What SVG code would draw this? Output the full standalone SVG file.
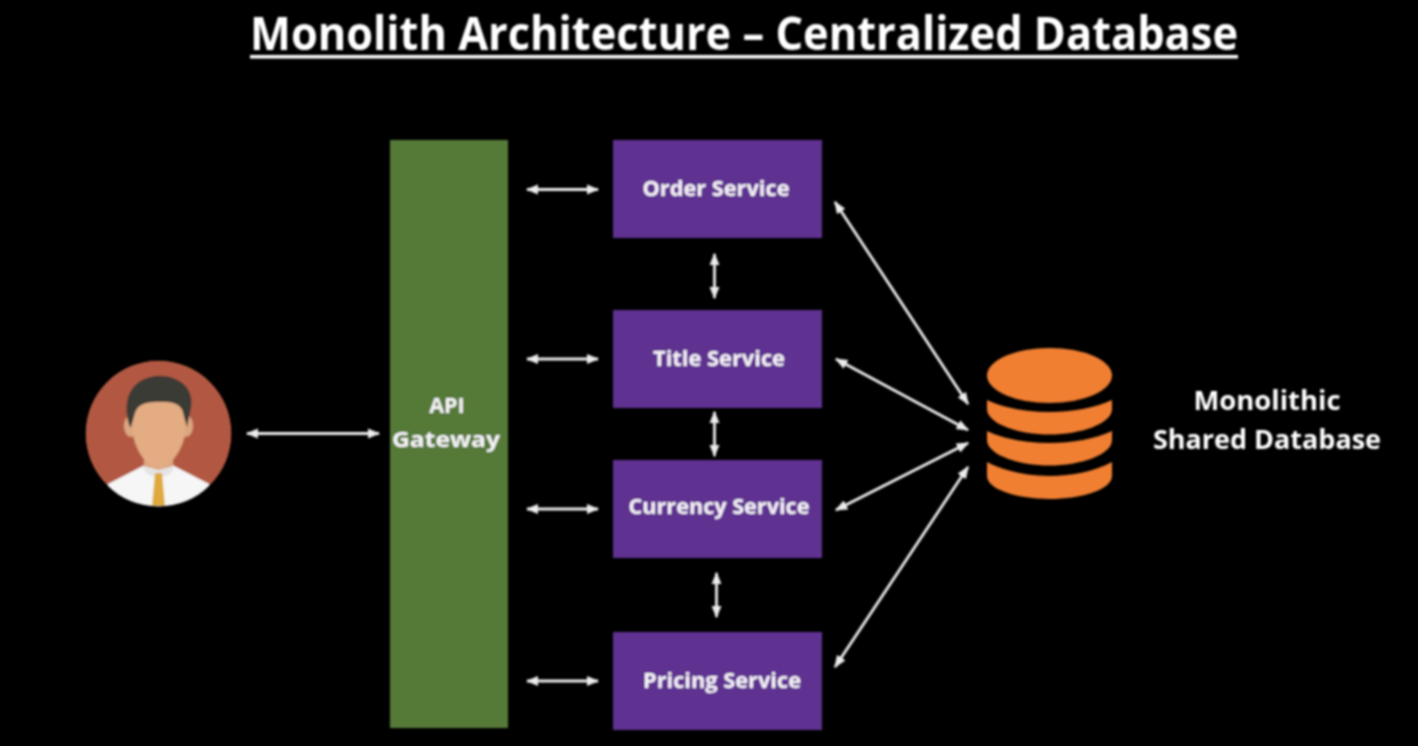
<svg xmlns="http://www.w3.org/2000/svg" width="1418" height="746" viewBox="0 0 1418 746">
<style>
text{font-family:"Open Sans","Noto Sans","Liberation Sans",sans-serif;font-weight:700;fill:#f7f4f9;text-anchor:middle}
.svc{fill:#5f3191}
.lbl{font-size:21.500px}
.db{font-size:26.500px;fill:#fff}
.conn{stroke:#ececec;stroke-width:2.8;fill:none;marker-start:url(#ah);marker-end:url(#ah)}
.cyl{fill:#f07f32}
</style>
<defs>
<marker id="ah" viewBox="0 0 10 8" refX="9" refY="4" markerWidth="4.500" markerHeight="3.600" orient="auto-start-reverse"><path d="M0 0L10 4L0 8Z" fill="#ececec"/></marker>
<clipPath id="avatarClip"><circle cx="158.500" cy="433.500" r="73"/></clipPath>
<filter id="soft" x="-5%" y="-5%" width="110%" height="110%"><feGaussianBlur stdDeviation="0.8"/></filter>
</defs>
<rect width="1418" height="746" fill="#000"/>
<g filter="url(#soft)">
<g id="title">
<text x="744" y="50" font-size="46" textLength="988" lengthAdjust="spacingAndGlyphs" style="fill:#fff">Monolith Architecture – Centralized Database</text>
<rect x="250" y="55" width="988" height="3.500" fill="#fff"/>
</g>
<g id="user">
<g clip-path="url(#avatarClip)">
<circle cx="158.500" cy="433.500" r="73" fill="#b25843"/>
<path d="M108 484L143 466H174L209 484V510H108Z" fill="#f6f6f6"/>
<path d="M143 466L146 462H171L174 466C174 472 168 476 158.500 478C149 476 143 472 143 466Z" fill="#e4e4e4"/>
<path d="M155 473H162L165 506H152Z" fill="#dfaa3a"/>
<ellipse cx="131" cy="426" rx="7" ry="11" fill="#dba680"/>
<ellipse cx="186" cy="426" rx="7" ry="11" fill="#dba680"/>
<path d="M144 450H173V466L158.500 470L144 466Z" fill="#dba680"/>
<path d="M132 395H186V425C186 446 171 468 158.500 468C146 468 132 446 132 425Z" fill="#e3ac82"/>
<path d="M130 427C122 405 127 380 155 376C178 374 195 388 191 408L187 427L184 417C183 407 178 401 160 402C148 402 138 403 135 413L131 427Z" fill="#3b3a36"/>
</g>
</g>
<g id="api-gateway">
<rect x="390" y="140" width="118" height="588" fill="#557a38"/>
<text class="lbl" x="447" y="413">API</text>
<text class="lbl" x="446" y="447" textLength="108" lengthAdjust="spacingAndGlyphs">Gateway</text>
</g>
<g id="order-service"><rect class="svc" x="613" y="140" width="209" height="98"/><text class="lbl" x="716" y="196" textLength="147" lengthAdjust="spacingAndGlyphs">Order Service</text></g>
<g id="title-service"><rect class="svc" x="613" y="310" width="209" height="98"/><text class="lbl" x="719" y="366" textLength="132" lengthAdjust="spacingAndGlyphs">Title Service</text></g>
<g id="currency-service"><rect class="svc" x="613" y="460" width="209" height="98"/><text class="lbl" x="719" y="514" textLength="181" lengthAdjust="spacingAndGlyphs">Currency Service</text></g>
<g id="pricing-service"><rect class="svc" x="613" y="632" width="209" height="98"/><text class="lbl" x="722" y="688" textLength="158" lengthAdjust="spacingAndGlyphs">Pricing Service</text></g>
<g id="database">
<ellipse class="cyl" cx="1049.500" cy="375.500" rx="62.500" ry="27.500"/>
<path class="cyl" d="M987 400C1004 408 1027 412 1049.500 412C1072 412 1095 408 1112 400V409C1112 424 1080 434.500 1049.500 434.500C1019 434.500 987 424 987 409Z"/>
<path class="cyl" d="M987 431C1004 439 1027 443 1049.500 443C1072 443 1095 439 1112 431V440C1112 455 1080 465.500 1049.500 465.500C1019 465.500 987 455 987 440Z"/>
<path class="cyl" d="M987 462C1004 471 1027 476 1049.500 476C1072 476 1095 471 1112 462V476C1112 490 1080 499 1049.500 499C1019 499 987 490 987 476Z"/>
<text class="db" x="1267" y="410" textLength="147" lengthAdjust="spacingAndGlyphs">Monolithic</text>
<text class="db" x="1267" y="449" textLength="228" lengthAdjust="spacingAndGlyphs">Shared Database</text>
</g>
<g id="connectors">
<line class="conn" x1="527" y1="189.500" x2="598" y2="189.500"/>
<line class="conn" x1="247" y1="433.500" x2="379" y2="433.500"/>
<line class="conn" x1="527" y1="359" x2="598" y2="359"/>
<line class="conn" x1="527" y1="509" x2="598" y2="509"/>
<line class="conn" x1="527" y1="681" x2="598" y2="681"/>
<line class="conn" x1="714.500" y1="254" x2="714.500" y2="298"/>
<line class="conn" x1="714.500" y1="412" x2="714.500" y2="456"/>
<line class="conn" x1="716.500" y1="573" x2="716.500" y2="617"/>
<line class="conn" x1="835" y1="202" x2="968" y2="404"/>
<line class="conn" x1="836" y1="359" x2="968" y2="430"/>
<line class="conn" x1="836" y1="510" x2="968" y2="443"/>
<line class="conn" x1="835" y1="667" x2="968" y2="467"/>
</g>
</g>
</svg>
